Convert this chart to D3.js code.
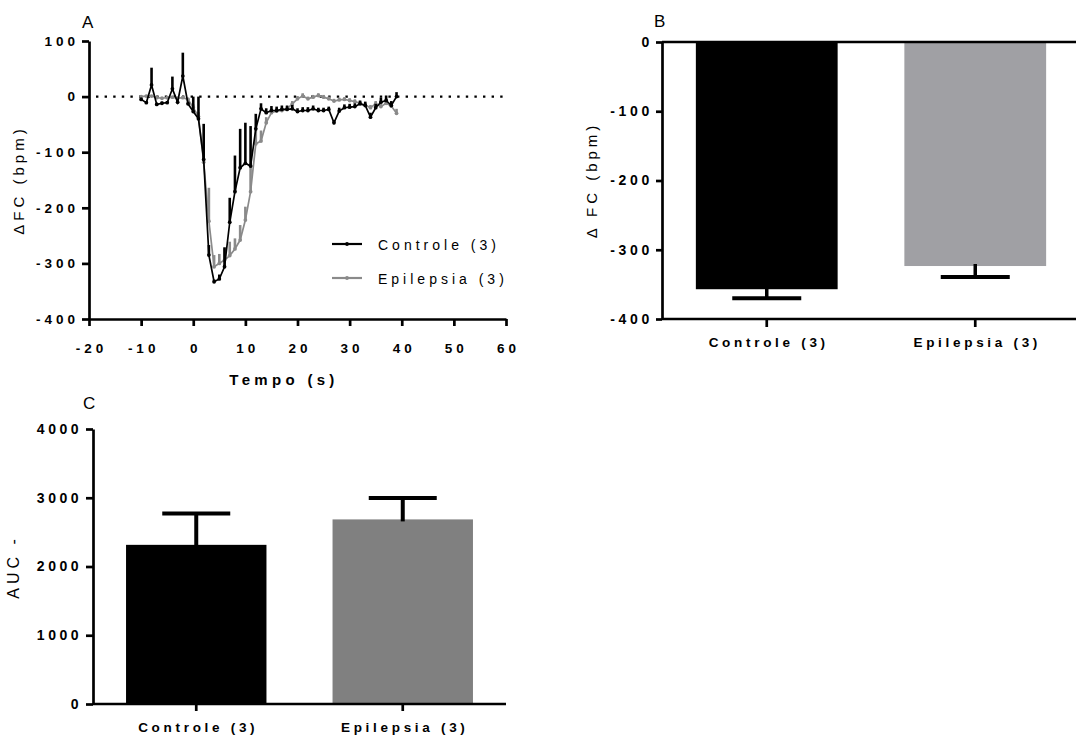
<!DOCTYPE html>
<html>
<head>
<meta charset="utf-8">
<script src="https://cdn.jsdelivr.net/npm/d3@7"></script>
<style>
  body { margin: 0; background: #fff; }
  svg { display: block; }
</style>
</head>
<body>
<svg id="chart" width="1076" height="740"></svg>
<script>
// ---------------- DATA ----------------
// Panel A: time course (s) of ΔFC (bpm), mean and SEM
const timeS = [-10,-9,-8,-7,-6,-5,-4,-3,-2,-1,0,1,2,3,4,5,6,7,8,9,10,11,12,13,14,15,16,17,18,19,20,21,22,23,24,25,26,27,28,29,30,31,32,33,34,35,36,37,38,39];
const controleMean = [-5,-11,21,-14,-12,-11,14,-10,37,-13,-27,-40,-113,-285,-333,-328,-306,-226,-171,-128,-120,-125,-58,-22,-29,-25,-25,-23,-23,-22,-27,-25,-25,-22,-25,-25,-23,-47,-26,-20,-19,-18,-13,-16,-37,-20,-10,-7,-16,0];
const controleSem  = [3,3,31,3,3,3,22,3,42,4,27,40,64,18,4,8,35,44,65,70,73,72,27,10,8,8,7,7,7,7,6,6,6,6,5,5,5,5,6,6,6,6,6,7,8,7,8,9,8,8];
const epilepsiaMean = [0,1,1,-2,-3,-2,-1,-3,-2,-5,-20,-36,-118,-224,-306,-300,-294,-286,-274,-258,-222,-171,-85,-80,-47,-29,-26,-25,-22,-13,-4,1,-4,-1,2,-1,-4,-8,-6,-5,-7,-9,-12,-15,-20,-13,-18,-12,-17,-30];
const epilepsiaSem  = [2,2,2,2,2,2,2,2,3,3,6,8,10,60,21,17,21,25,19,27,24,51,25,19,10,6,5,5,5,5,5,5,4,4,4,4,4,4,4,4,4,4,4,4,5,5,5,5,5,8];
const seriesNames = ["Controle (3)", "Epilepsia (3)"];
const xTicksA = [-20,-10,0,10,20,30,40,50,60];
const yTicksA = [100,0,-100,-200,-300,-400];

// Panel B: peak ΔFC (bpm)
const groups = ["Controle (3)", "Epilepsia (3)"];
const peakMean = [-357, -323.5];
const peakSem  = [13, 16];
const yTicksB = [0,-100,-200,-300,-400];

// Panel C: AUC
const aucMean = [2315, 2685];
const aucSem  = [455, 310];
const yTicksC = [0,1000,2000,3000,4000];

// ---------------- STYLE ----------------
const FONT = '"Liberation Sans", Arial, Helvetica, sans-serif';
const svg = d3.select("#chart");
const AX_W = 2.7;

function styleAxis(g, fs, ls) {
  g.attr("font-family", null).attr("font-size", null);
  g.select(".domain").attr("stroke", "#000").attr("stroke-width", AX_W);
  g.selectAll(".tick line").attr("stroke", "#000").attr("stroke-width", AX_W);
  g.selectAll(".tick text")
    .attr("fill", "#000")
    .style("font-family", FONT)
    .style("font-size", fs + "px")
    .style("font-weight", "bold")
    .style("letter-spacing", ls + "px");
}
function label(x, y, txt, opts) {
  const t = svg.append("text")
    .attr("x", x).attr("y", y)
    .text(txt)
    .style("font-family", FONT)
    .style("font-size", (opts.fs || 14) + "px")
    .style("font-weight", opts.bold ? "bold" : "normal")
    .style("letter-spacing", (opts.ls || 0) + "px")
    .attr("text-anchor", opts.anchor || "start")
    .attr("fill", "#000");
  if (opts.rotate) t.attr("transform", `rotate(-90,${x},${y})`);
  return t;
}

// ================= PANEL A =================
const xA = d3.scaleLinear().domain([-20, 60]).range([89, 506]);
const yA = d3.scaleLinear().domain([-400, 100]).range([319, 41]);

// dotted zero line
svg.append("line")
  .attr("x1", 96).attr("x2", xA(60))
  .attr("y1", yA(0)).attr("y2", yA(0))
  .attr("stroke", "#000").attr("stroke-width", 2.4)
  .attr("stroke-dasharray", "2.4,6.2");

const gyA = svg.append("g").attr("transform", `translate(${xA(-20)},0)`)
  .call(d3.axisLeft(yA).tickValues(yTicksA).tickSize(7).tickPadding(3).tickSizeOuter(0).tickFormat(d => String(d)));
styleAxis(gyA, 13.5, 4);

const gxA = svg.append("g").attr("transform", `translate(0,${yA(-400)})`)
  .call(d3.axisBottom(xA).tickValues(xTicksA).tickSize(7).tickPadding(17).tickSizeOuter(0).tickFormat(d => String(d)));
styleAxis(gxA, 13.5, 4);
gxA.selectAll(".tick text").attr("dx", "2");

label(284, 385, "Tempo (s)", {fs: 15, bold: true, ls: 4.3, anchor: "middle"});
label(24, 180, "ΔFC (bpm)", {fs: 15, ls: 4, anchor: "middle", rotate: true});
label(82, 28, "A", {fs: 17});

const seriesA = [
  {name: seriesNames[1], mean: epilepsiaMean, sem: epilepsiaSem, color: "#8a8a8a"},
  {name: seriesNames[0], mean: controleMean, sem: controleSem, color: "#000"}
];
const line = d3.line().x((d, i) => xA(timeS[i])).y(d => yA(d));
seriesA.forEach(s => {
  const g = svg.append("g");
  g.selectAll("line.err").data(s.mean).enter().append("line")
    .attr("x1", (d, i) => xA(timeS[i])).attr("x2", (d, i) => xA(timeS[i]))
    .attr("y1", d => yA(d)).attr("y2", (d, i) => yA(d + s.sem[i]))
    .attr("stroke", s.color).attr("stroke-width", 2.6);
  g.append("path").datum(s.mean).attr("d", line)
    .attr("fill", "none").attr("stroke", s.color).attr("stroke-width", 1.7);
  g.selectAll("circle").data(s.mean).enter().append("circle")
    .attr("cx", (d, i) => xA(timeS[i])).attr("cy", d => yA(d))
    .attr("r", 1.9).attr("fill", s.color);
});

// legend
const legendA = [
  {name: seriesNames[0], color: "#000", y: 244},
  {name: seriesNames[1], color: "#8a8a8a", y: 278}
];
legendA.forEach(l => {
  svg.append("line").attr("x1", 332).attr("x2", 362).attr("y1", l.y).attr("y2", l.y)
    .attr("stroke", l.color).attr("stroke-width", 2.2);
  svg.append("circle").attr("cx", 347).attr("cy", l.y).attr("r", 1.9).attr("fill", l.color);
  label(378, l.y + 6, l.name, {fs: 14, ls: 4});
});

// ================= PANEL B =================
const xB = d3.scaleBand().domain(groups).range([662.5, 1079.5]).paddingInner(0.32).paddingOuter(0.16);
const yB = d3.scaleLinear().domain([-400, 0]).range([319, 42]);
const colorsB = ["#000000", "#a0a0a4"];

svg.append("g").selectAll("rect").data(peakMean).enter().append("rect")
  .attr("x", (d, i) => xB(groups[i])).attr("width", xB.bandwidth())
  .attr("y", yB(0)).attr("height", d => yB(d) - yB(0))
  .attr("fill", (d, i) => colorsB[i]);

// error bars (downward)
peakMean.forEach((m, i) => {
  const cx = xB(groups[i]) + xB.bandwidth() / 2;
  svg.append("line").attr("x1", cx).attr("x2", cx).attr("y1", yB(m) - 2).attr("y2", yB(m - peakSem[i]))
    .attr("stroke", "#000").attr("stroke-width", 3.5);
  svg.append("line").attr("x1", cx - 34.5).attr("x2", cx + 34.5).attr("y1", yB(m - peakSem[i])).attr("y2", yB(m - peakSem[i]))
    .attr("stroke", "#000").attr("stroke-width", 4);
});

// zero line across
svg.append("line").attr("x1", 662).attr("x2", 1076).attr("y1", yB(0)).attr("y2", yB(0))
  .attr("stroke", "#000").attr("stroke-width", AX_W);

const gyB = svg.append("g").attr("transform", "translate(662,0)")
  .call(d3.axisLeft(yB).tickValues(yTicksB).tickSize(6).tickPadding(3).tickSizeOuter(0).tickFormat(d => String(d)));
styleAxis(gyB, 14, 3.7);

const gxB = svg.append("g").attr("transform", `translate(0,${yB(-400)})`)
  .call(d3.axisBottom(xB).tickSize(8).tickPadding(10).tickSizeOuter(0));
styleAxis(gxB, 13.5, 3.7);
gxB.select(".domain").attr("d", "M662,0H1076");
gxB.selectAll(".tick text").attr("dx", "2");

label(597, 180, "Δ FC (bpm)", {fs: 15, ls: 4, anchor: "middle", rotate: true});
label(654, 27, "B", {fs: 17});

// ================= PANEL C =================
const xC = d3.scaleBand().domain(groups).range([93, 506]).paddingInner(0.32).paddingOuter(0.16);
const yC = d3.scaleLinear().domain([0, 4000]).range([704, 429]);
const colorsC = ["#000000", "#808080"];

svg.append("g").selectAll("rect").data(aucMean).enter().append("rect")
  .attr("x", (d, i) => xC(groups[i])).attr("width", xC.bandwidth())
  .attr("y", d => yC(d)).attr("height", d => yC(0) - yC(d))
  .attr("fill", (d, i) => colorsC[i]);

aucMean.forEach((m, i) => {
  const cx = xC(groups[i]) + xC.bandwidth() / 2;
  svg.append("line").attr("x1", cx).attr("x2", cx).attr("y1", yC(m) + 2).attr("y2", yC(m + aucSem[i]))
    .attr("stroke", "#000").attr("stroke-width", 4);
  svg.append("line").attr("x1", cx - 34).attr("x2", cx + 34).attr("y1", yC(m + aucSem[i])).attr("y2", yC(m + aucSem[i]))
    .attr("stroke", "#000").attr("stroke-width", 4);
});

const gyC = svg.append("g").attr("transform", "translate(93,0)")
  .call(d3.axisLeft(yC).tickValues(yTicksC).tickSize(7).tickPadding(4).tickSizeOuter(0).tickFormat(d => String(d)));
styleAxis(gyC, 14, 3.5);

const gxC = svg.append("g").attr("transform", `translate(0,${yC(0)})`)
  .call(d3.axisBottom(xC).tickSize(7).tickPadding(11).tickSizeOuter(0));
styleAxis(gxC, 13.5, 3.7);
gxC.select(".domain").attr("d", "M93,0H506");
gxC.selectAll(".tick text").attr("dx", "2");

label(19, 567, "AUC -", {fs: 16, ls: 4, anchor: "middle", rotate: true});
label(83, 409, "C", {fs: 17});
</script>
</body>
</html>
